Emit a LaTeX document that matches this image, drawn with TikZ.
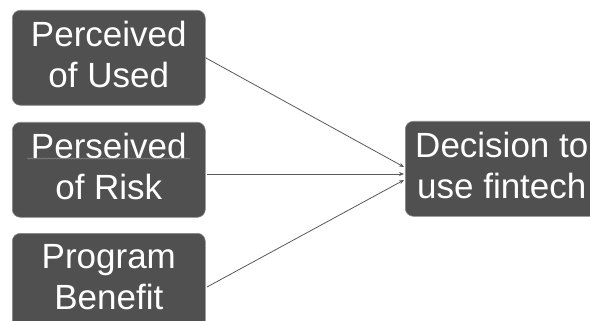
\documentclass[tikz,border=0pt]{standalone}
\usepackage{fontspec}
\setmainfont{Liberation Sans}
\usetikzlibrary{arrows.meta,decorations.pathmorphing}
\definecolor{boxgray}{HTML}{505050}
\definecolor{edgegray}{HTML}{8A8A8A}
\definecolor{linegray}{HTML}{5A5A5A}
\tikzset{
  factor/.style={rectangle, rounded corners=8pt, fill=boxgray, draw=edgegray, line width=0.6pt,
    minimum width=193pt, minimum height=95pt, anchor=north west, inner sep=0pt},
  factortext/.style={text=white, align=center, inner sep=0pt,
    font=\fontsize{35}{41.5}\selectfont},
  link/.style={draw=linegray, line width=0.8pt, -{Stealth[length=5pt,width=4pt]}}
}
\begin{document}
\begin{tikzpicture}[x=1pt,y=-1pt]
\clip (0,0) rectangle (590,321);
\fill[white] (0,0) rectangle (590,321);
\node[factor] (p1) at (12,10) {};
\node[factor] (p2) at (12,122) {};
\node[factor] (p3) at (12,233) {};
\node[factor] (dec) at (405,121) {};
\node[factortext] (p1t) at ([yshift=3.5pt]p1.center) {Perceived\\of Used};
\node[factortext] (p2t) at ([yshift=3.5pt]p2.center) {Perseived\\of Risk};
\node[factortext] (p3t) at ([yshift=3.5pt]p3.center) {Program\\Benefit};
\node[factortext] (dect) at ([yshift=3.5pt]dec.center) {Decision to\\use fintech};
\coordinate (t1) at (404,167);
\coordinate (t2) at (404,174);
\coordinate (t3) at (404,180);
\coordinate (s2) at (207,174);
\coordinate (s3) at (207,287);
\draw[link] (p1.east) -- (t1);
\draw[link] (s2) -- (t2);
\draw[link] (s3) -- (t3);
\draw[edgegray, line width=0.5pt, decorate, decoration={snake, amplitude=0.6pt, segment length=3pt}] (27,158.5) -- (190,158.5);
\end{tikzpicture}
\end{document}
